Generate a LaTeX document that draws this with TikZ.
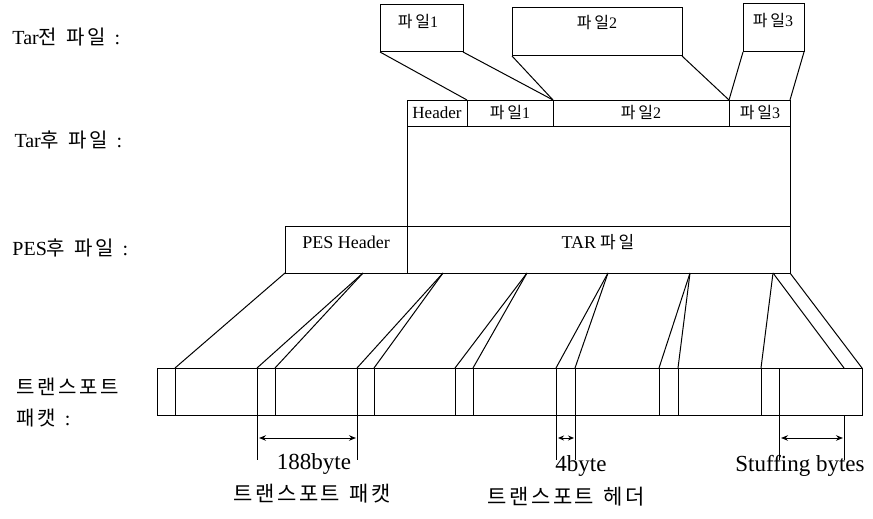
\documentclass[tikz,border=0pt]{standalone}
\usepackage{fontspec}
\setmainfont{Liberation Serif}
\newfontfamily\krfont{Noto Sans CJK KR}
\newcommand\kor[1]{{\krfont #1}}
\newcommand\ks{\hspace{2.5pt}}
\newcommand\kw{\hspace{9pt}}
\usetikzlibrary{arrows.meta}
\begin{document}
\begin{tikzpicture}[x=1pt,y=-1pt,
  every path/.style={line width=1pt},
  box/.style={draw,line width=1pt,inner sep=0pt,outer sep=0pt,anchor=north west},
  txt/.style={inner sep=0pt,font=\fontsize{18}{22}\selectfont},
  ktxt/.style={inner sep=0pt,font=\fontsize{16}{19}\selectfont},
  lab/.style={inner sep=0pt,anchor=west,font=\fontsize{20}{24}\selectfont},
  btxt/.style={inner sep=0pt,font=\fontsize{23}{27}\selectfont},
  kbtxt/.style={inner sep=0pt,font=\fontsize{21}{25}\selectfont},
  dim/.style={line width=0.9pt},
  dimarrow/.style={line width=1pt,{Stealth[length=7pt,width=5.5pt]}-{Stealth[length=7pt,width=5.5pt]}},
]
\useasboundingbox (0,0) rectangle (873,519);

% left labels
\node[lab] (l1) at (12,37) {Tar\kor{전\kw 파\ks 일}\kw:};
\node[lab] (l2) at (14,140) {Tar\kor{후\kw 파\ks 일}\kw:};
\node[lab] (l3) at (12,248) {PES\kor{후\kw 파\ks 일}\kw:};
\node[lab] (l4) at (16,387) {\kor{트\ks 랜\ks 스\ks 포\ks 트}};
\node[lab] (l5) at (16,418) {\kor{패\ks 캣}\kw:};

% Tar before files
\node[box,minimum width=83pt,minimum height=47pt] (t1) at (380,5) {};
\node[box,minimum width=170pt,minimum height=48pt] (t2) at (512,8) {};
\node[box,minimum width=61pt,minimum height=48pt] (t3) at (743,4) {};
\node[ktxt] (t1l) at (418,22) {\kor{파\,일}1};
\node[ktxt] (t2l) at (597,23) {\kor{파\,일}2};
\node[ktxt] (t3l) at (773,21) {\kor{파\,일}3};

% Tar after row
\node[box,minimum width=60pt,minimum height=26pt] (hd) at (407,100) {};
\node[box,minimum width=86pt,minimum height=26pt] (a1) at (467,100) {};
\node[box,minimum width=176pt,minimum height=26pt] (a2) at (553,100) {};
\node[box,minimum width=61pt,minimum height=26pt] (a3) at (729,100) {};
\node[box,minimum width=383pt,minimum height=100pt] (tb) at (407,126) {};
\node[txt,font=\fontsize{17}{20}\selectfont] (hdl) at (437,113) {Header};
\node[ktxt] (a1l) at (510,113) {\kor{파\,일}1};
\node[ktxt] (a2l) at (641,113) {\kor{파\,일}2};
\node[ktxt] (a3l) at (760,113) {\kor{파\,일}3};

% PES row
\node[box,minimum width=122pt,minimum height=47pt] (ph) at (285,226) {};
\node[box,minimum width=383pt,minimum height=47pt] (tf) at (407,226) {};
\node[txt] (phl) at (346,242) {PES Header};
\node[txt] (tfl) at (598,242) {TAR\hspace{4pt}\kor{\fontsize{17}{20}\selectfont 파\,일}};

% connectors top -> Tar after
\draw (t1.south west) -- (hd.north east);
\draw (t1.south east) -- (a1.north east);
\draw (t2.south west) -- (a1.north east);
\draw (t2.south east) -- (a2.north east);
\draw (t3.south west) -- (a2.north east);
\draw (t3.south east) -- (a3.north east);

% transport packet row
\node[box,minimum width=705pt,minimum height=47pt] (pk) at (157,368) {};
\foreach \x [count=\i] in {175,257,275,357,374,455,473,556,575,659,678,761,779}{
  \coordinate (v\i t) at (\x,368);
  \coordinate (v\i b) at (\x,415);
  \draw (v\i t) -- (v\i b);
}
\coordinate (s1) at (844,368);

% convergence points on PES bottom
\coordinate (c1) at (363,273);
\coordinate (c2) at (443,273);
\coordinate (c3) at (527,273);
\coordinate (c4) at (608,273);
\coordinate (c5) at (690,273);
\coordinate (c6) at (773,273);

\draw (ph.south west) -- (v1t);
\draw (c1) -- (v2t); \draw (c1) -- (v3t);
\draw (c2) -- (v4t); \draw (c2) -- (v5t);
\draw (c3) -- (v6t); \draw (c3) -- (v7t);
\draw (c4) -- (v8t); \draw (c4) -- (v9t);
\draw (c5) -- (v10t); \draw (c5) -- (v11t);
\draw (c6) -- (v12t); \draw (c6) -- (s1);
\draw (tf.south east) -- (pk.north east);

% dimension lines
\foreach \x/\n in {257/d1,357/d2,556/d3,575/d4,779/d5,844/d6}{
  \coordinate (\n t) at (\x,415);
  \coordinate (\n b) at (\x,460);
  \coordinate (\n m) at (\x,438);
  \draw[dim] (\n t) -- (\n b);
}
\draw[dimarrow] ([xshift=2pt]d1m) -- ([xshift=-1pt]d2m);
\draw[line width=1pt,{Stealth[length=6pt,width=5pt]}-{Stealth[length=6pt,width=5pt]}] ([xshift=2pt]d3m) -- ([xshift=-1pt]d4m);
\draw[dimarrow] ([xshift=2pt]d5m) -- ([xshift=-1pt]d6m);

\node[btxt] (b1) at (314,464) {188byte};
\node[kbtxt] (b2) at (312,494) {\kor{트\ks 랜\ks 스\ks 포\ks 트\kw 패\ks 캣}};
\node[btxt] (b3) at (581,466) {4byte};
\node[kbtxt] (b4) at (566,497) {\kor{트\ks 랜\ks 스\ks 포\ks 트\kw 헤\ks 더}};
\node[btxt] (b5) at (800,466) {Stuffing bytes};
\end{tikzpicture}
\end{document}
